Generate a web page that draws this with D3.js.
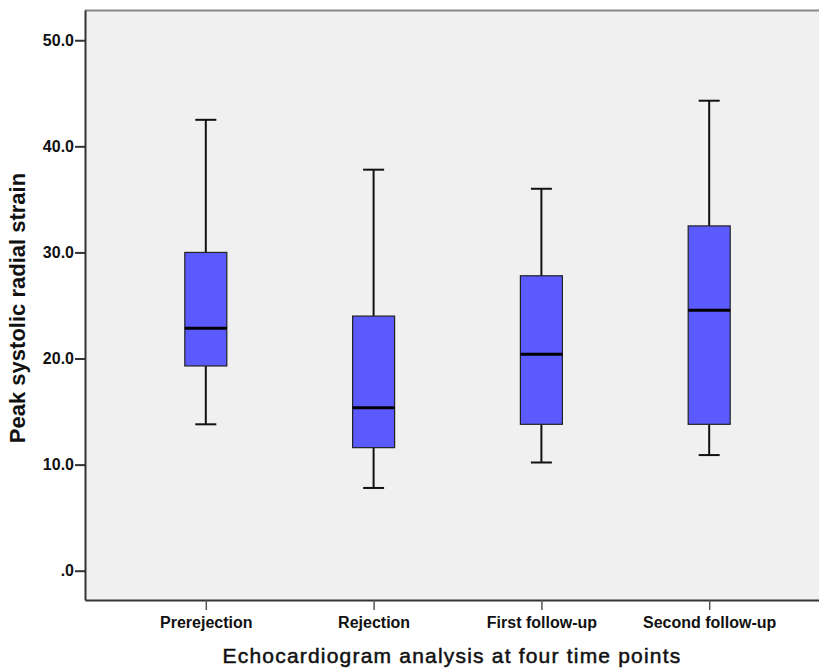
<!DOCTYPE html>
<html>
<head>
<meta charset="utf-8">
<script src="https://cdn.jsdelivr.net/npm/d3@7"></script>
<style>
    body { margin: 0; background: #fff; }
    text { font-family: "Liberation Sans", Arial, sans-serif; }
</style>
</head>
<body>
<div id="chart"></div>
<script>
// five-number summaries
const categories = ["Prerejection", "Rejection", "First follow-up", "Second follow-up"];
const whiskerLow = [13.8, 7.8, 10.2, 10.9];
const q1 = [19.3, 11.6, 13.8, 13.8];
const median = [22.85, 15.35, 20.4, 24.55];
const q3 = [30.0, 24.0, 27.8, 32.5];
const whiskerHigh = [42.5, 37.8, 36.0, 44.3];
const yTicks = [0, 10, 20, 30, 40, 50];

const width = 819, height = 669;
const margin = {top: 10, right: -11, bottom: 69, left: 85};

let svg = d3.select("#chart").append("svg")
    .attr("width", width)
    .attr("height", height);

let x = d3.scalePoint()
    .domain(categories)
    .range([margin.left, width - margin.right])
    .padding(0.72);

let y = d3.scaleLinear()
    .domain([-2.76, 52.85])
    .range([height - margin.bottom, margin.top]);

// plot background
svg.append("rect")
    .attr("x", margin.left)
    .attr("y", margin.top)
    .attr("width", width - margin.right - margin.left)
    .attr("height", height - margin.bottom - margin.top)
    .attr("fill", "#f0f0f0");

// top border
svg.append("line")
    .attr("x1", margin.left).attr("x2", width)
    .attr("y1", margin.top + 0.5).attr("y2", margin.top + 0.5)
    .attr("stroke", "#888").attr("stroke-width", 2);

let data = categories.map((c, i) => ({
    cat: c, lo: whiskerLow[i], q1: q1[i], med: median[i], q3: q3[i], hi: whiskerHigh[i]
}));

const boxW = 42, capW = 21;

let boxes = svg.selectAll("g.box")
    .data(data)
    .enter()
    .append("g")
    .classed("box", true);

// whiskers
boxes.append("line")
    .attr("x1", d => x(d.cat)).attr("x2", d => x(d.cat))
    .attr("y1", d => y(d.hi)).attr("y2", d => y(d.q3))
    .attr("stroke", "#111").attr("stroke-width", 2);
boxes.append("line")
    .attr("x1", d => x(d.cat)).attr("x2", d => x(d.cat))
    .attr("y1", d => y(d.q1)).attr("y2", d => y(d.lo))
    .attr("stroke", "#111").attr("stroke-width", 2);
boxes.append("line")
    .attr("x1", d => x(d.cat) - capW / 2).attr("x2", d => x(d.cat) + capW / 2)
    .attr("y1", d => y(d.hi)).attr("y2", d => y(d.hi))
    .attr("stroke", "#111").attr("stroke-width", 2);
boxes.append("line")
    .attr("x1", d => x(d.cat) - capW / 2).attr("x2", d => x(d.cat) + capW / 2)
    .attr("y1", d => y(d.lo)).attr("y2", d => y(d.lo))
    .attr("stroke", "#111").attr("stroke-width", 2);

// box
boxes.append("rect")
    .attr("x", d => x(d.cat) - boxW / 2)
    .attr("y", d => y(d.q3))
    .attr("width", boxW)
    .attr("height", d => y(d.q1) - y(d.q3))
    .attr("fill", "#5a5aff")
    .attr("stroke", "#222")
    .attr("stroke-width", 1.2);

// median
boxes.append("line")
    .attr("x1", d => x(d.cat) - boxW / 2).attr("x2", d => x(d.cat) + boxW / 2)
    .attr("y1", d => y(d.med)).attr("y2", d => y(d.med))
    .attr("stroke", "#000").attr("stroke-width", 3);

// y axis
let yAxis = svg.append("g")
    .attr("transform", "translate(" + margin.left + ",0)")
    .call(d3.axisLeft(y)
        .tickValues(yTicks)
        .tickSize(10)
        .tickPadding(1)
        .tickSizeOuter(0)
        .tickFormat(d => d === 0 ? ".0" : d3.format(".1f")(d)));
yAxis.select(".domain").attr("stroke", "#333").attr("stroke-width", 2);
yAxis.selectAll(".tick line").attr("stroke", "#333").attr("stroke-width", 2);
yAxis.selectAll("text")
    .attr("font-size", 16)
    .attr("font-weight", "bold")
    .attr("fill", "#111")
    .attr("font-family", "'Liberation Sans', Arial, sans-serif");

// x axis
let xAxis = svg.append("g")
    .attr("transform", "translate(0," + (height - margin.bottom) + ")")
    .call(d3.axisBottom(x).tickSize(10).tickPadding(7).tickSizeOuter(0));
xAxis.select(".domain").attr("stroke", "#333").attr("stroke-width", 2);
xAxis.selectAll(".tick line").attr("stroke", "#555").attr("stroke-width", 1.5);
xAxis.selectAll("text")
    .attr("font-size", 16)
    .attr("font-weight", "bold")
    .attr("fill", "#111")
    .attr("font-family", "'Liberation Sans', Arial, sans-serif");

// axis titles
svg.append("text")
    .attr("transform", "translate(25,308) rotate(-90)")
    .attr("text-anchor", "middle")
    .attr("font-size", 22)
    .attr("font-weight", "bold")
    .attr("fill", "#111")
    .text("Peak systolic radial strain");

svg.append("text")
    .attr("x", 452)
    .attr("y", 663)
    .attr("text-anchor", "middle")
    .attr("font-size", 21)
    .attr("letter-spacing", 1.2)
    .attr("fill", "#111")
    .attr("stroke", "#111")
    .attr("stroke-width", 0.5)
    .text("Echocardiogram analysis at four time points");
</script>
</body>
</html>
